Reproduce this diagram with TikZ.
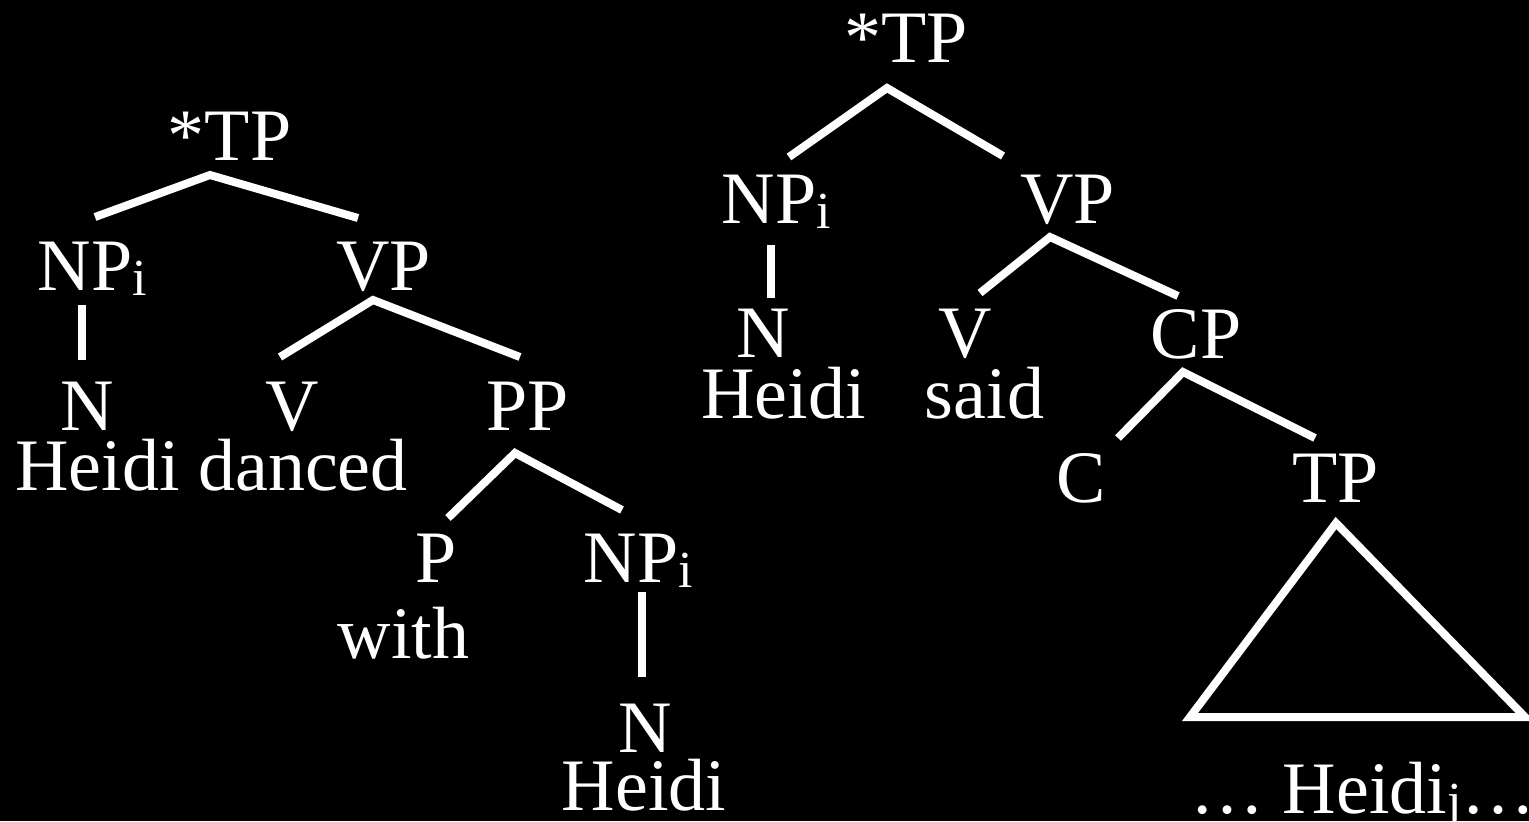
\documentclass[tikz,border=0pt]{standalone}
\usepackage{fontspec}
\setmainfont{Liberation Serif}
\newcommand\sbs[1]{\raisebox{-2.5pt}{\fontsize{26pt}{26pt}\selectfont #1}}
\begin{document}
\begin{tikzpicture}[x=0.5pt,y=-0.5pt,
  lab/.style={text=white,inner sep=0pt,anchor=base,font=\fontsize{37pt}{40pt}\selectfont},
  br/.style={draw=white,line width=4pt,line join=miter,line cap=butt}]
\fill[black] (0,0) rectangle (1529,821);
\useasboundingbox (0,0) rectangle (1529,821);
% left tree
\node[lab] (tpL) at (229.5,160) {*TP};
\node[lab] (npL) at (92.5,290) {NP\sbs{i}};
\node[lab] (vpL) at (383.5,290) {VP};
\node[lab] (nL) at (87.5,430) {N};
\node[lab] (vL) at (292,430) {V};
\node[lab] (heidiL) at (211.5,490) {Heidi danced};
\node[lab] (ppL) at (527.5,430) {PP};
\node[lab] (pL) at (436,582) {P};
\node[lab] (withL) at (403.5,658) {with};
\node[lab] (np2L) at (638.5,582) {NP\sbs{i}};
\node[lab] (n2L) at (645,752) {N};
\node[lab] (heidi2L) at (644,810) {Heidi};
% right tree
\node[lab] (tpR) at (906,62) {*TP};
\node[lab] (npR) at (776.5,223) {NP\sbs{i}};
\node[lab] (vpR) at (1067.5,223) {VP};
\node[lab] (nR) at (763,357) {N};
\node[lab] (vR) at (965,357) {V};
\node[lab] (heidiR) at (783.5,418) {Heidi};
\node[lab] (saidR) at (984.5,418) {said};
\node[lab] (cpR) at (1196,358) {CP};
\node[lab] (cR) at (1081.5,502) {C};
\node[lab] (tp2R) at (1335.5,502) {TP};
\node[lab,anchor=base west] (dotsR) at (1190,813) {… Heidi\sbs{j}…};
% branch points
\coordinate (tpLa) at (210,175); \coordinate (npLt) at (95,217); \coordinate (vpLt) at (358,218);
\coordinate (npLb) at (82,305); \coordinate (nLt) at (82,360);
\coordinate (vpLa) at (373,300); \coordinate (vLt) at (280,357); \coordinate (ppLt) at (520,357);
\coordinate (ppLa) at (515,453); \coordinate (pLt) at (448,518); \coordinate (np2Lt) at (622,510);
\coordinate (np2Lb) at (642,592); \coordinate (n2Lt) at (642,677);
\coordinate (tpRa) at (887,88); \coordinate (npRt) at (789,157); \coordinate (vpRt) at (1003,156);
\coordinate (npRb) at (771,245); \coordinate (nRt) at (771,298);
\coordinate (vpRa) at (1050,237); \coordinate (vRt) at (980,293); \coordinate (cpRt) at (1178,296);
\coordinate (cpRa) at (1183,372); \coordinate (cRt) at (1118,438); \coordinate (tp2Rt) at (1315,438);
\coordinate (triA) at (1336,523); \coordinate (triL) at (1190,717); \coordinate (triR) at (1525,717);
\draw[br] (npLt) -- (tpLa) -- (vpLt);
\draw[br] (npLb) -- (nLt);
\draw[br] (vLt) -- (vpLa) -- (ppLt);
\draw[br] (pLt) -- (ppLa) -- (np2Lt);
\draw[br] (np2Lb) -- (n2Lt);
\draw[br] (npRt) -- (tpRa) -- (vpRt);
\draw[br] (npRb) -- (nRt);
\draw[br] (vRt) -- (vpRa) -- (cpRt);
\draw[br] (cRt) -- (cpRa) -- (tp2Rt);
\draw[br] (triA) -- (triL) -- (triR) -- cycle;
\end{tikzpicture}
\end{document}
